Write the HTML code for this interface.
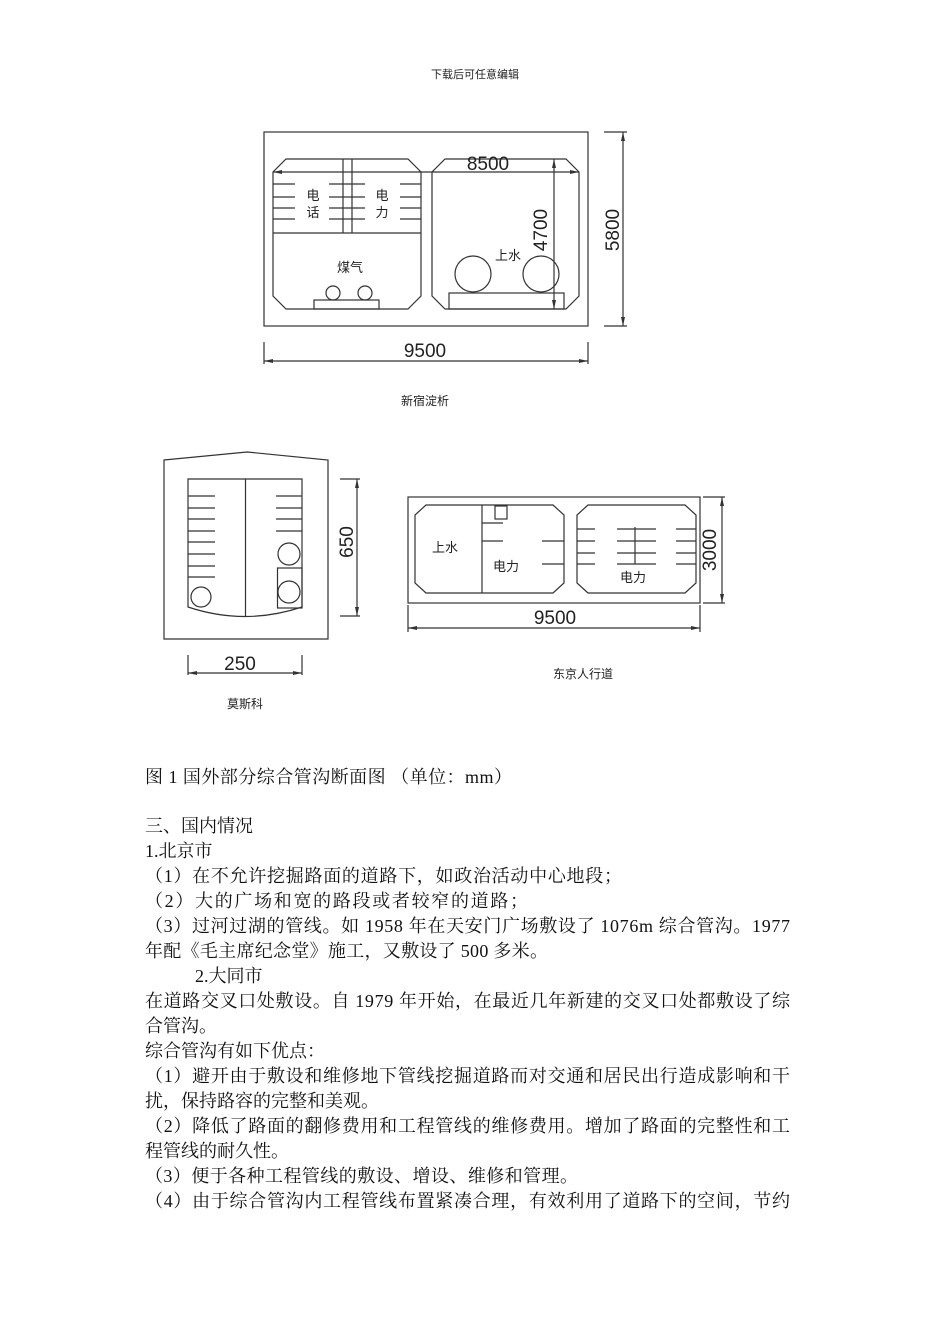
<!DOCTYPE html>
<html><head><meta charset="utf-8"><style>
html,body{margin:0;padding:0;background:#fff;}
svg{display:block;}
.t{font-family:"Liberation Serif","Noto Serif CJK SC",serif;font-size:18px;fill:#111;}
.d{font-family:"Liberation Sans","Noto Sans CJK SC",sans-serif;fill:#222;}
</style></head><body>
<svg width="950" height="1344" viewBox="0 0 950 1344" xmlns="http://www.w3.org/2000/svg">
<text x="475" y="78" text-anchor="middle" class="d" font-size="11">下载后可任意编辑</text>

<g fill="none" stroke="#333" stroke-width="1.2">
<!-- top diagram -->
<rect x="264" y="132" width="324" height="194"/>
<polygon points="286,159 408,159 421,172 421,296 408,309 286,309 273,296 273,172"/>
<polygon points="445,159 566,159 579,172 579,296 566,309 445,309 432,296 432,172"/>
<line x1="273" y1="233" x2="421" y2="233"/>
<line x1="343" y1="159" x2="343" y2="233"/><line x1="352" y1="159" x2="352" y2="233"/>
<path d="M273 184H295M273 197H295M273 208H295M273 219H295M329 184H365M329 197H365M329 208H365M329 219H365M400 184H421M400 197H421M400 208H421M400 219H421"/>
<circle cx="333" cy="293" r="7"/><circle cx="365" cy="293" r="7"/>
<rect x="314" y="300" width="65" height="9"/>
<circle cx="473" cy="274" r="18"/><circle cx="541" cy="274" r="18"/>
<rect x="449" y="293" width="115" height="16"/>
<line x1="554" y1="159" x2="554" y2="309"/>
<line x1="273" y1="172" x2="579" y2="172"/>
<path d="M604 132H627M604 326H627M623 132V326"/>
<path d="M264 342V364M588 342V364M264 361H588"/>
<!-- bottom left -->
<polygon points="164,460 247,452 328,460 328,639 164,639"/>
<path d="M188 479H302V607Q245 626 188 607Z"/>
<line x1="245.5" y1="479" x2="245.5" y2="616"/>
<path d="M188 496H215M188 508H215M188 519H215M188 531H215M188 542H215M188 554H215M188 566H215M188 577H215M276 496H302M276 508H302M276 519H302M276 531H302"/>
<circle cx="201" cy="597" r="10"/><circle cx="289" cy="554" r="11"/><circle cx="289" cy="592" r="11"/>
<rect x="277.5" y="568" width="24.5" height="40"/>
<path d="M340 479H360M340 616H360M357 479V616"/>
<path d="M188 655V675M302 655V675M188 673H302"/>
<!-- bottom right -->
<rect x="408" y="497" width="292" height="106"/>
<polygon points="426,505 553,505 564,515 564,583 553,593 426,593 415,583 415,515"/>
<polygon points="588,505 685,505 696,515 696,583 685,593 588,593 577,583 577,515"/>
<line x1="482" y1="505" x2="482" y2="593"/>
<rect x="495" y="506" width="12" height="13"/>
<path d="M482 523H503M482 541H503M542 541H564M542 564H564"/>
<path d="M577 529H595M577 541H595M577 553H595M577 564H595M617 529H656M617 541H656M617 553H656M617 564H656M676 529H696M676 541H696M676 553H696M676 564H696M635 527V564"/>
<path d="M703 497H725M703 603H725M722 497V603"/>
<path d="M408 605V632M700 605V632M408 628H700"/>
</g>
<g fill="#333">
<path d="M264 361l9-2v4zM588 361l-9-2v4zM623 132l-2 9h4zM623 326l-2-9h4zM273 172l9-2v4zM579 172l-9-2v4zM554 159l-2 9h4zM554 309l-2-9h4z"/>
<path d="M357 479l-2 9h4zM357 616l-2-9h4zM188 673l9-2v4zM302 673l-9-2v4zM722 497l-2 9h4zM722 603l-2-9h4zM408 628l9-2v4zM700 628l-9-2v4z"/>
</g>
<g class="d" font-size="13" text-anchor="middle">
<text x="313" y="200">电</text><text x="313" y="217">话</text>
<text x="382" y="200">电</text><text x="382" y="217">力</text>
<text x="350" y="272">煤气</text>
<text x="508" y="260">上水</text>
<text x="445" y="552">上水</text><text x="506" y="571">电力</text><text x="633" y="582">电力</text>
<text x="425" y="405" font-size="12">新宿淀析</text>
<text x="245" y="708" font-size="12">莫斯科</text>
<text x="583" y="678" font-size="12">东京人行道</text>
</g>
<g class="d" font-size="19" text-anchor="middle" fill="#333">
<text x="488" y="170">8500</text>
<text x="425" y="357">9500</text>
<text x="240" y="670">250</text>
<text x="555" y="624">9500</text>
<text transform="translate(547,230) rotate(-90)">4700</text>
<text transform="translate(619,230) rotate(-90)">5800</text>
<text transform="translate(353,542) rotate(-90)">650</text>
<text transform="translate(716,550) rotate(-90)">3000</text>
</g>

<g class="t">
<text x="145" y="783" textLength="367" lengthAdjust="spacing">图 1  国外部分综合管沟断面图  （单位：mm）</text>
<text x="145" y="832">三、国内情况</text>
<text x="145" y="857">1.北京市</text>
<text x="145" y="882" textLength="477" lengthAdjust="spacing">（1）在不允许挖掘路面的道路下，如政治活动中心地段；</text>
<text x="145" y="907" textLength="383" lengthAdjust="spacing">（2）大的广场和宽的路段或者较窄的道路；</text>
<text x="145" y="932" textLength="645" lengthAdjust="spacing">（3）过河过湖的管线。如 1958 年在天安门广场敷设了 1076m 综合管沟。1977</text>
<text x="145" y="957" textLength="403" lengthAdjust="spacing">年配《毛主席纪念堂》施工，又敷设了 500 多米。</text>
<text x="195" y="982">2.大同市</text>
<text x="145" y="1007" textLength="645" lengthAdjust="spacing">在道路交叉口处敷设。自 1979 年开始，在最近几年新建的交叉口处都敷设了综</text>
<text x="145" y="1032">合管沟。</text>
<text x="145" y="1057">综合管沟有如下优点：</text>
<text x="145" y="1082" textLength="645" lengthAdjust="spacing">（1）避开由于敷设和维修地下管线挖掘道路而对交通和居民出行造成影响和干</text>
<text x="145" y="1107">扰，保持路容的完整和美观。</text>
<text x="145" y="1132" textLength="645" lengthAdjust="spacing">（2）降低了路面的翻修费用和工程管线的维修费用。增加了路面的完整性和工</text>
<text x="145" y="1157">程管线的耐久性。</text>
<text x="145" y="1182" textLength="433" lengthAdjust="spacing">（3）便于各种工程管线的敷设、增设、维修和管理。</text>
<text x="145" y="1207" textLength="645" lengthAdjust="spacing">（4）由于综合管沟内工程管线布置紧凑合理，有效利用了道路下的空间，节约</text>
</g>
</svg>
</body></html>
